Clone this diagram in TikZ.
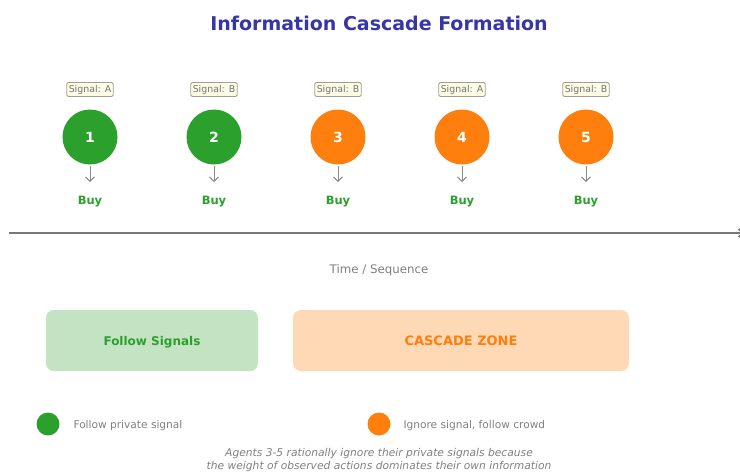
\documentclass[tikz,border=0pt]{standalone}
\usepackage{fontspec}
\setmainfont{DejaVu Sans}
\usetikzlibrary{arrows.meta}
\definecolor{agentgreen}{HTML}{2CA02C}
\definecolor{agentorange}{HTML}{FF7F0E}
\definecolor{titleblue}{HTML}{3636A8}
\definecolor{txtgray}{HTML}{808080}
\definecolor{linegray}{HTML}{777777}
\definecolor{sigfill}{HTML}{FDFDE6}
\definecolor{sigborder}{HTML}{A0A090}
\definecolor{zonegreen}{HTML}{C3E3C3}
\definecolor{zoneorange}{HTML}{FFD8B5}
\tikzset{
  agent/.style={circle, minimum size=55pt, inner sep=0pt, text=white,
    font=\fontsize{14}{16}\selectfont\bfseries},
  signalbox/.style={draw=sigborder, fill=sigfill, rounded corners=1.5pt,
    line width=0.8pt, inner sep=2pt, text=txtgray!90!black,
    font=\fontsize{9.4}{10}\selectfont, minimum height=14pt},
  buylabel/.style={text=agentgreen, font=\fontsize{11.5}{13}\selectfont\bfseries},
  downarrow/.style={draw=linegray!85, line width=0.9pt, -{Straight Barb[length=4.5pt,width=9pt]}},
  zone/.style={rounded corners=8pt, minimum height=61pt, inner sep=0pt,
    text height=9.2pt, text depth=0pt},
  legenddot/.style={circle, minimum size=23pt, inner sep=0pt},
  legendtext/.style={anchor=west, text=txtgray, font=\fontsize{10.6}{12}\selectfont},
}
\begin{document}
\begin{tikzpicture}[x=1pt, y=-1pt]
\useasboundingbox (0,0) rectangle (740,472);
\fill[white] (0,0) rectangle (740,472);

\node[text=titleblue, font=\fontsize{19}{22}\selectfont\bfseries] (title) at (379,23.5) {Information Cascade Formation};

% agents in order of action
\foreach \i/\x/\sig/\col in {1/90/A/agentgreen, 2/214/B/agentgreen, 3/338/B/agentorange, 4/462/A/agentorange, 5/586/B/agentorange}{
  \node[signalbox] (sig\i) at (\x,89.5) {Signal: \sig};
  \node[agent, fill=\col] (ag\i) at (\x,137) {\i};
  \node[buylabel] (buy\i) at (\x,201.5) {Buy};
  \coordinate (top\i) at (\x,166);
  \coordinate (tip\i) at (\x,182);
  \draw[downarrow] (top\i) -- (tip\i);
}

% time axis
\coordinate (tstart) at (9,233);
\coordinate (tend) at (744,233);
\draw[linegray, line width=1.8pt, -{Straight Barb[length=4pt,width=8pt]}] (tstart) -- (tend);
\node[text=txtgray, font=\fontsize{11.8}{13}\selectfont] (tlabel) at (379,270) {Time / Sequence};

% phases
\node[zone, fill=zonegreen, text=agentgreen, minimum width=212pt,
  font=\fontsize{12}{14}\selectfont\bfseries] (follow) at (152,340.5) {Follow Signals};
\node[zone, fill=zoneorange, text=agentorange, minimum width=336pt,
  font=\fontsize{13}{15}\selectfont\bfseries] (cascade) at (461,340.5) {CASCADE ZONE};

% legend
\node[legenddot, fill=agentgreen] (lg1) at (48,424) {};
\node[legendtext] (lt1) at (70,425.5) {Follow private signal};
\node[legenddot, fill=agentorange] (lg2) at (379,424) {};
\node[legendtext] (lt2) at (400,425.5) {Ignore signal, follow crowd};

% note
\node[text=txtgray, font=\fontsize{10.7}{13}\selectfont\itshape, align=center] (note) at (379,460)
  {Agents 3-5 rationally ignore their private signals because\\the weight of observed actions dominates their own information};
\end{tikzpicture}
\end{document}
